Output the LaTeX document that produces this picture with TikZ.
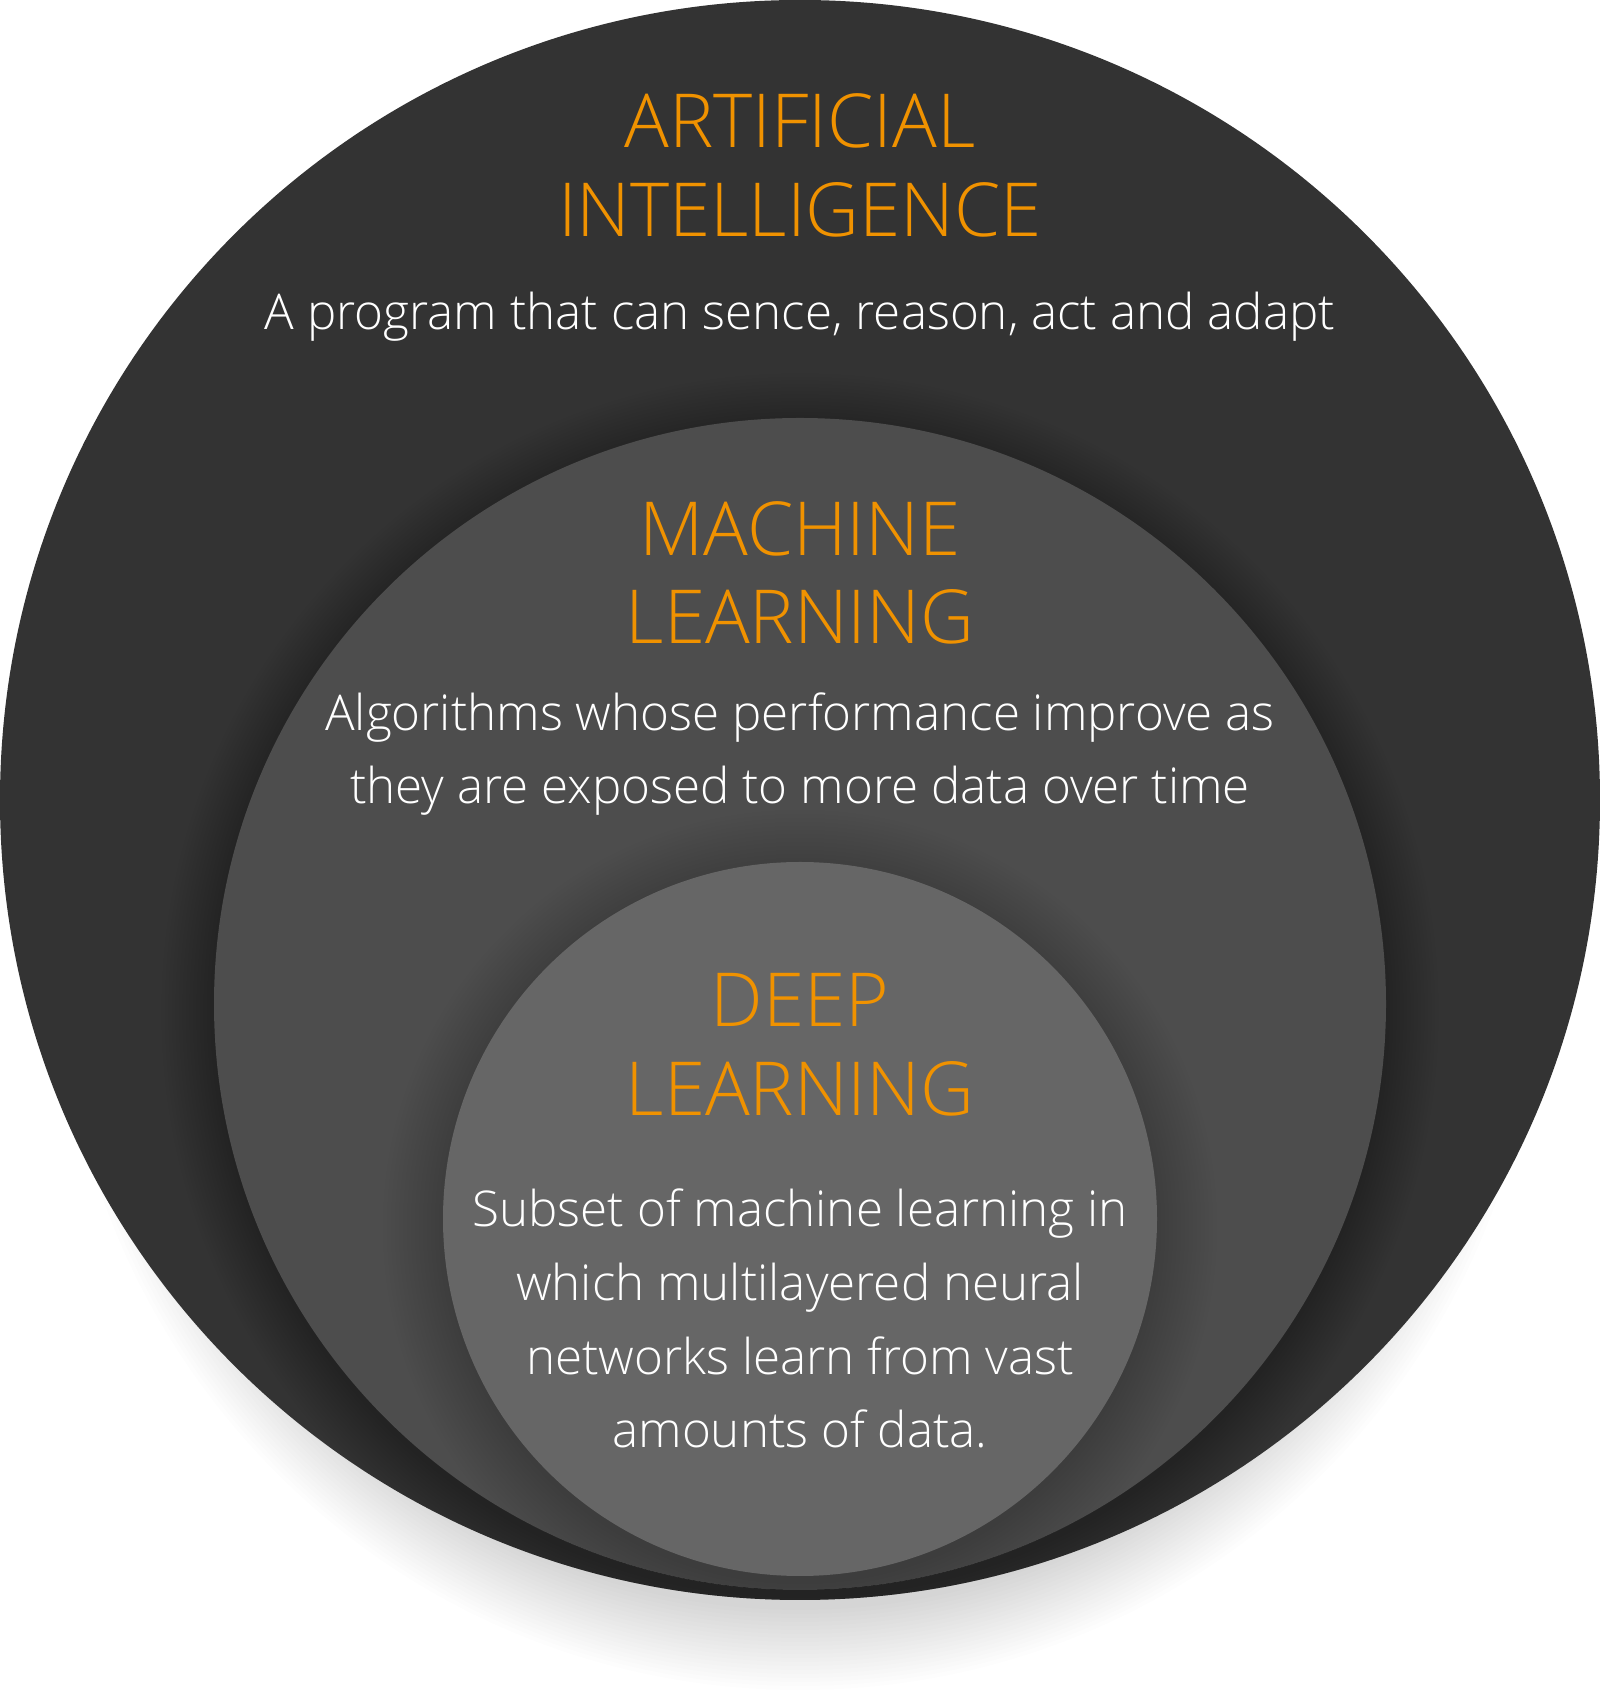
\documentclass[tikz,border=0pt]{standalone}
\usepackage{fontspec}
\IfFontExistsTF{Open Sans Light}{\setmainfont{Open Sans Light}}{\setmainfont{Open Sans}}
\definecolor{aiorange}{RGB}{240,146,0}
\definecolor{outerc}{RGB}{51,51,51}
\definecolor{midc}{RGB}{77,77,77}
\definecolor{innerc}{RGB}{102,102,102}
\begin{document}
\begin{tikzpicture}[x=1pt,y=1pt,
  head/.style={anchor=base,inner sep=0pt,text=aiorange,font=\fontsize{74.5}{89}\selectfont},
  body/.style={anchor=base,inner sep=0pt,text=white,font=\fontsize{49.3}{74}\selectfont}]
\useasboundingbox (0,0) rectangle (1600,1695);
\fill[white] (0,0) rectangle (1600,1695);
% outer shadow
\begin{scope}
\clip (0,0) rectangle (1600,1695);
\foreach \k in {0,...,20} {\fill[black,opacity=0.008] (800,745) circle ({660pt+\k*4pt});}
\end{scope}
\fill[outerc] (800,895) circle (800pt);
% middle shadow on outer
\begin{scope}
\clip (800,895) circle (800pt);
\foreach \k in {0,...,15} {\fill[black,opacity=0.012] (800,683) circle ({586pt+\k*3.5pt});}
\end{scope}
\fill[midc] (800,691) circle (586pt);
% inner shadow on middle
\begin{scope}
\clip (800,691) circle (586pt);
\foreach \k in {0,...,15} {\fill[black,opacity=0.009] (800,468) circle ({357pt+\k*4pt});}
\end{scope}
\fill[innerc] (800,476) circle (357pt);
% texts
\node[head] (ai1) at (800,1547) {ARTIFICIAL};
\node[head] (ai2) at (800,1458) {INTELLIGENCE};
\node[body] (ai3) at (800,1365) {A program that can sence, reason, act and adapt};
\node[head] (ml1) at (800,1139) {MACHINE};
\node[head] (ml2) at (800,1051) {LEARNING};
\node[body] (ml3) at (800,964) {Algorithms whose performance improve as};
\node[body] (ml4) at (800,891) {they are exposed to more data over time};
\node[head] (dl1) at (800,668) {DEEP};
\node[head] (dl2) at (800,579) {LEARNING};
\node[body] (dl3) at (800,468) {Subset of machine learning in};
\node[body] (dl4) at (800,394) {which multilayered neural};
\node[body] (dl5) at (800,320) {networks learn from vast};
\node[body] (dl6) at (800,247) {amounts of data.};
\end{tikzpicture}
\end{document}
